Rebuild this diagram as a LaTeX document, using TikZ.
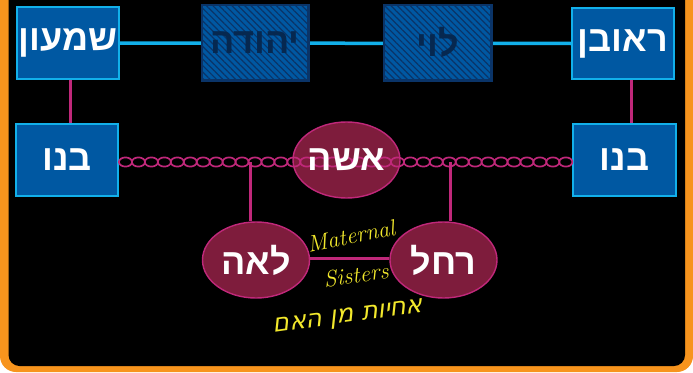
\documentclass[tikz,border=0pt]{standalone}
\usepackage{fontspec}
\usetikzlibrary{patterns.meta,shapes.geometric}
\TeXXeTstate=1
\newfontfamily\hebfont[Script=Hebrew]{Liberation Sans}
\newfontfamily\handheb[Script=Hebrew,FakeSlant=0.25]{DejaVu Sans}
\definecolor{orangeF}{HTML}{F7941D}
\definecolor{boxblue}{HTML}{0058A2}
\definecolor{boxedge}{HTML}{12B0EA}
\definecolor{hatchline}{HTML}{0A3468}
\definecolor{hatchtext}{HTML}{062850}
\definecolor{maroon}{HTML}{7E1C3C}
\definecolor{magentaL}{HTML}{C0287A}
\definecolor{handyellow}{HTML}{F2E82C}
\tikzset{
  hebbig/.style={font=\hebfont\bfseries\fontsize{36}{36}\selectfont},
  sonbox/.style={draw=boxedge,line width=1.5pt,fill=boxblue,text=white,hebbig,inner sep=0pt},
  hatchbox/.style={draw=hatchline,line width=1.5pt,fill=boxblue,inner sep=0pt},
  woman/.style={ellipse,draw=magentaL,line width=1.4pt,fill=maroon,
    minimum width=107pt,minimum height=76pt,inner sep=0pt},
  womantext/.style={text=white,hebbig},
  blueline/.style={draw=boxedge,line width=3.5pt},
  redline/.style={draw=magentaL,line width=3pt},
  link/.style={draw=magentaL,line width=1.7pt},
  hand/.style={text=handyellow,inner sep=0pt}
}
\begin{document}
\begin{tikzpicture}[x=1pt,y=-1pt]
\useasboundingbox (0,0) rectangle (693,372);
\begin{scope}
\clip (0,0) rectangle (693,372);
\fill[white] (0,0) rectangle (693,372);
\fill[orangeF,rounded corners=16pt] (0,-40) rectangle (693,372);
\fill[black,rounded corners=11pt] (8.5,-40) rectangle (685,366);
\end{scope}
% nodes
\node[sonbox,minimum width=102pt,minimum height=72pt] (shimon) at (68,43) {\beginR שמעון\endR};
\node[sonbox,minimum width=102pt,minimum height=71pt] (reuven) at (623,43.5) {\beginR ראובן\endR};
\node[sonbox,minimum width=102pt,minimum height=72pt] (bnoL) at (67,160) {\beginR בנו\endR};
\node[sonbox,minimum width=103pt,minimum height=72pt] (bnoR) at (624.5,160) {\beginR בנו\endR};
\coordinate (yehudaC) at (255,42.5);
\coordinate (leviC) at (437.5,42.5);
\draw[blueline] (shimon.east) -- (reuven.west);
\node[hatchbox,minimum width=106pt,minimum height=75pt] (yehuda) at (yehudaC) {};
\fill[pattern={Lines[angle=-45,distance=4.5pt,line width=1.2pt]},pattern color=hatchline]
  (yehuda.south west) rectangle (yehuda.north east);
\draw[hatchline,line width=1.5pt] (yehuda.south west) rectangle (yehuda.north east);
\node[hatchbox,minimum width=107pt,minimum height=75pt] (levi) at (leviC) {};
\fill[pattern={Lines[angle=-45,distance=4.5pt,line width=1.2pt]},pattern color=hatchline]
  (levi.south west) rectangle (levi.north east);
\draw[hatchline,line width=1.5pt] (levi.south west) rectangle (levi.north east);
\node[text=hatchtext,hebbig] (yehudaT) at (yehuda) {\beginR יהודה\endR};
\node[text=hatchtext,hebbig] (leviT) at (levi) {\beginR לוי\endR};
\draw[redline] (shimon.south -| 70,0) -- (bnoL.north -| 70,0);
\draw[redline] (reuven.south -| 631,0) -- (bnoR.north -| 631,0);
% women
\node[woman] (wife) at (346.5,160) {};
\node[woman] (leah) at (256,260) {};
\node[woman] (rachel) at (443.5,260) {};
\coordinate (jL) at (250,162);
\coordinate (jR) at (450,162);
\draw[redline] (jL) -- (jL |- leah.north);
\draw[redline] (jR) -- (jR |- rachel.north);
\draw[redline] (leah.east |- 0,258) -- (rachel.west |- 0,258);
% chain
\foreach \i in {0,...,34} {
  \draw[link] ({125.5+\i*12.95},162) ellipse [x radius=6.6pt, y radius=4.6pt];
}
\node[womantext] (wifeT) at (wife) {\beginR אשה\endR};
\node[womantext] (leahT) at (leah) {\beginR לאה\endR};
\node[womantext] (rachelT) at (rachel) {\beginR רחל\endR};
% handwriting
\node[hand,rotate=11,font=\itshape\fontsize{23}{23}\selectfont] (mat) at (351,236) {Maternal};
\node[hand,rotate=8,font=\itshape\fontsize{23}{23}\selectfont] (sis) at (356,275) {Sisters};
\node[hand,rotate=8,font=\handheb\fontsize{25}{25}\selectfont] (heb) at (348,318) {\beginR אחיות מן האם\endR};
\end{tikzpicture}
\end{document}
